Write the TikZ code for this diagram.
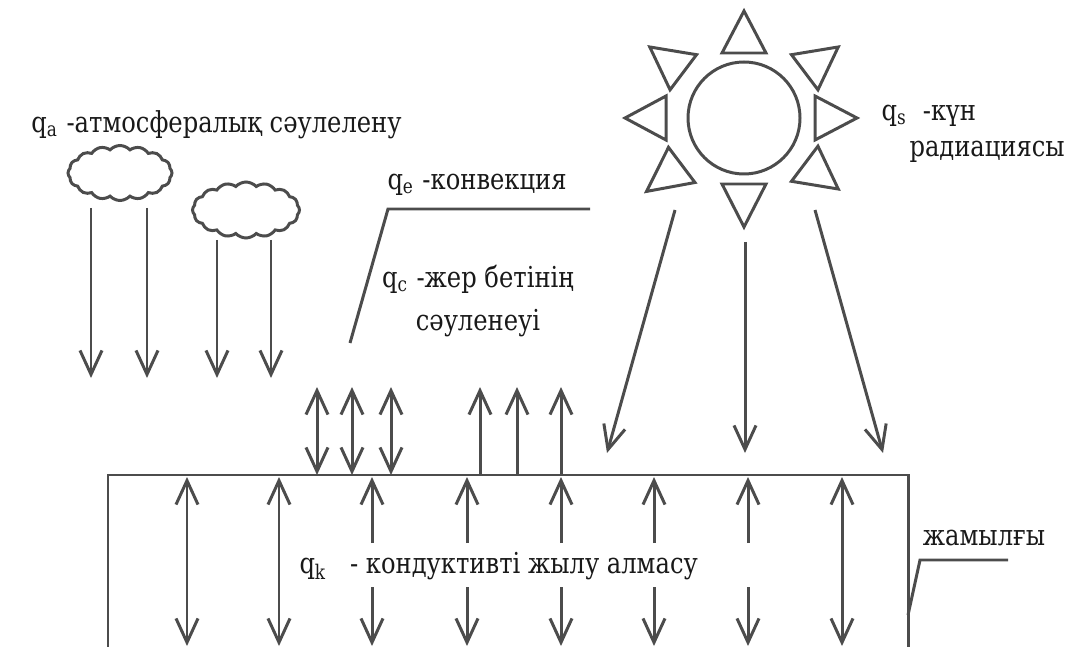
\documentclass[tikz,border=0pt]{standalone}
\usepackage{fontspec}
\setmainfont{DejaVu Serif}[FakeStretch=0.84]
\usetikzlibrary{arrows.meta,shapes.symbols}

\tikzset{
    lbl/.style={font=\fontsize{8.2}{11}\selectfont, text=black!90, inner sep=0pt},
    puff/.style={cloud, draw, cloud puffs=16, cloud puff arc=95, cloud ignores aspect, inner sep=0pt},
}

\begin{document}
\begin{tikzpicture}[>={Straight Barb[length=2.4mm,width=2.2mm]}, line width=0.85pt, draw=black!70]
        \useasboundingbox (0,0) rectangle (10.86,-6.47);

        \begin{scope}
            \node[lbl, anchor=west] (qa) at (0.30,-1.25) {q\textsubscript{a} -атмосфералық сәулелену};
            \node[puff, minimum width=1.04cm, minimum height=0.55cm] (cloudA) at (1.20,-1.73) {};
            \node[puff, minimum width=1.07cm, minimum height=0.56cm] (cloudB) at (2.46,-2.10) {};
            \foreach \x [count=\i] in {0.91, 1.47}
                \draw[->] (\x,-2.08) coordinate (a\i) -- ++(0,-1.70);
            \foreach \x [count=\i from 3] in {2.17, 2.71}
                \draw[->] (\x,-2.40) coordinate (a\i) -- ++(0,-1.38);
        \end{scope}

        \begin{scope}
            \node[circle, draw, minimum size=1.12cm, inner sep=0pt] (sun) at (7.44,-1.18) {};
            \foreach \a/\ri/\ro in {0/0.71/1.13, 37/0.76/1.18, 90/0.65/1.07, 143/0.76/1.18,
                                    180/0.78/1.19, 217/0.78/1.22, 270/0.66/1.09, 323/0.76/1.18}
                \draw[shift={(sun.center)}, rotate=\a] (\ro,0) -- (\ri,0.22) -- (\ri,-0.22) -- cycle;
            \coordinate (s1) at (6.75,-2.10);
            \coordinate (s2) at (7.45,-2.42);
            \coordinate (s3) at (8.15,-2.10);
            \draw[->] (s1) -- ++(-0.68,-2.43);
            \draw[->] (s2) -- ++(0,-2.11);
            \draw[->] (s3) -- ++(0.68,-2.43);
            \node[lbl, anchor=north west, align=left] (qs) at (8.80,-1.04) {q\textsubscript{s}\ \ -күн\\[-1pt]\hspace*{0.28cm}радиациясы};
        \end{scope}

        \begin{scope}
            \node[lbl, anchor=west] (qe) at (3.86,-1.85) {q\textsubscript{e} -конвекция};
            \node[lbl, align=center] (qc) at (4.78,-3.01) {q\textsubscript{c} -жер бетінің\\[1pt]сәуленеуі};
            \draw (3.50,-3.43) coordinate (l1) -- (3.88,-2.09) coordinate (l2) -- (5.90,-2.09) coordinate (l3);
            \foreach \x [count=\i] in {3.17, 3.52, 3.91}
                \draw[<->] (\x,-4.75) coordinate (c\i) -- ++(0,0.88);
            \foreach \x [count=\i from 4] in {4.80, 5.17, 5.61}
                \draw[->] (\x,-4.75) coordinate (c\i) -- ++(0,0.88);
        \end{scope}

        \begin{scope}
            \coordinate (o1) at (1.08,-6.47);
            \coordinate (b1) at (1.08,-4.75);
            \coordinate (d1) at (9.08,-6.47);
            \draw (o1) |- (d1 |- b1) coordinate (e1) -- (d1);
            \foreach \x [count=\i] in {1.87, 2.79, 8.42}
                \draw[<->] (\x,-4.77) coordinate (k\i) -- ++(0,-1.69);
            \foreach \x [count=\i from 4] in {3.72, 4.67, 5.61, 6.54, 7.48} {
                \draw[->] (\x,-5.43) coordinate (k\i) -- ++(0,0.66);
                \draw[->] (\x,-5.87) -- ++(0,-0.59);
            }
            \node[lbl, anchor=west] (qk) at (2.98,-5.66) {q\textsubscript{k}\ \ \ - кондуктивті жылу алмасу};
            \node[lbl] (cover) at (9.84,-5.38) {жамылғы};
            \draw (9.08,-6.15) coordinate (f1) -- (9.20,-5.60) coordinate (g1) -- (10.08,-5.60);
        \end{scope}
    \end{tikzpicture}
\end{document}
